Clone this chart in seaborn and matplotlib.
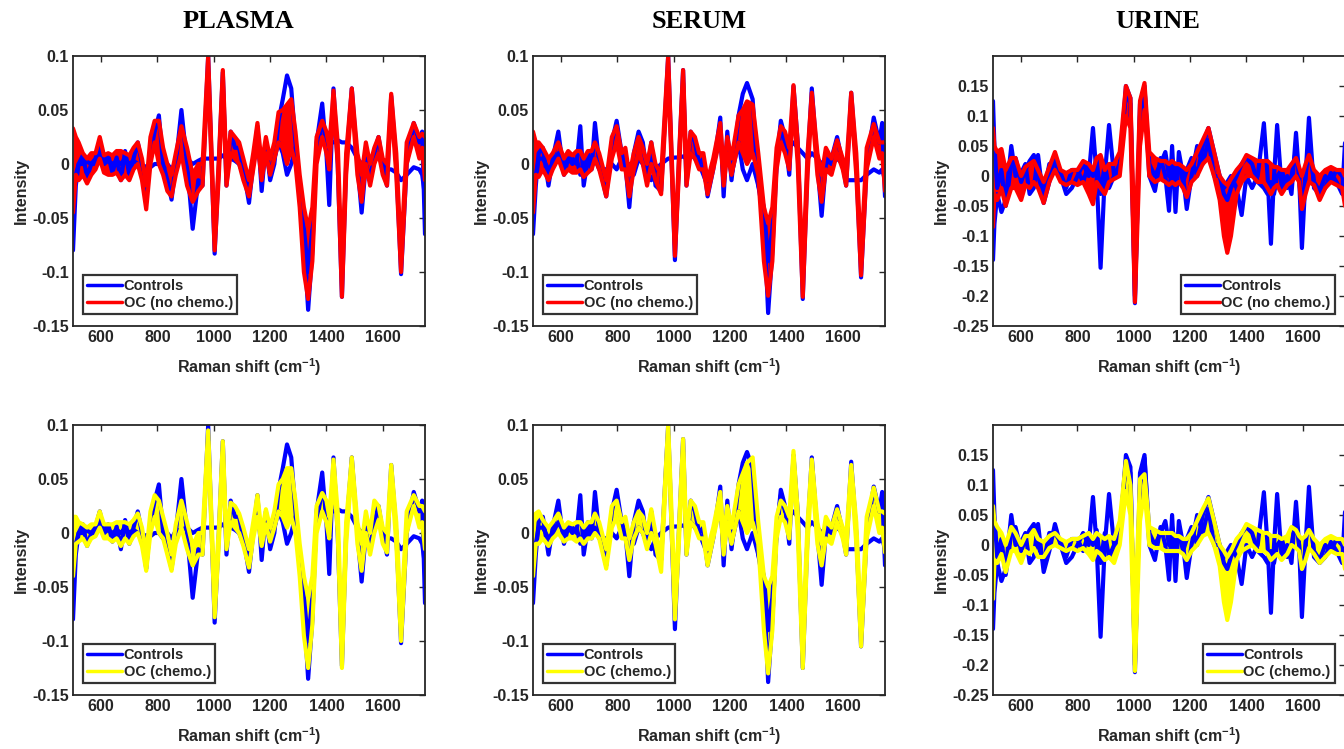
import matplotlib
matplotlib.use("Agg")
import matplotlib.pyplot as plt
from matplotlib.lines import Line2D
import seaborn as sns

# ---------------- data (keypoints in cm-1) ----------------
plasma_x = [500, 510, 520, 535, 550, 565, 580, 595, 610, 625,
            640, 655, 670, 685, 700, 715, 730, 745, 760, 775,
            790, 805, 820, 835, 850, 865, 885, 905, 925, 945,
            960, 980, 1003, 1018, 1032, 1045, 1060, 1075, 1090, 1105,
            1125, 1140, 1155, 1170, 1185, 1200, 1215, 1230, 1245, 1260,
            1275, 1290, 1305, 1320, 1335, 1350, 1365, 1385, 1400, 1410,
            1425, 1440, 1455, 1470, 1490, 1510, 1525, 1540, 1555, 1570,
            1585, 1600, 1615, 1630, 1648, 1665, 1685, 1710, 1730, 1740,
            1750]
plasma_ctrl_a = [-0.080, -0.020, 0.000, 0.008, -0.012, 0.000, 0.005, 0.020, 0.000, 0.008,
                 -0.008, 0.006, -0.015, 0.012, -0.010, 0.005, 0.020, 0.000, -0.033, 0.010,
                 0.030, 0.045, 0.000, -0.015, -0.033, 0.000, 0.050, 0.000, -0.060, -0.015,
                 -0.020, 0.100, -0.083, 0.000, 0.085, -0.020, 0.030, 0.015, 0.015, -0.005,
                 -0.036, 0.000, 0.035, -0.025, 0.020, -0.015, 0.000, 0.040, 0.060, 0.082,
                 0.070, 0.020, -0.030, -0.070, -0.135, -0.080, 0.020, 0.056, 0.010, -0.038,
                 0.070, 0.000, -0.123, 0.000, 0.070, 0.000, -0.045, 0.000, -0.015, 0.010,
                 0.025, 0.000, -0.020, 0.063, 0.000, -0.102, 0.000, 0.038, 0.020, 0.030,
                 -0.065]
plasma_ctrl_b = [-0.040, -0.010, 0.000, 0.000, 0.002, 0.000, 0.000, 0.010, 0.000, 0.003,
                 0.000, 0.003, 0.000, 0.005, 0.000, 0.003, 0.000, -0.005, -0.002, -0.003,
                 0.000, 0.000, -0.005, 0.000, -0.005, 0.002, 0.003, 0.005, 0.000, 0.003,
                 0.005, 0.005, 0.005, 0.005, 0.008, 0.005, 0.005, 0.003, 0.000, -0.010,
                 -0.020, 0.000, 0.020, -0.010, 0.015, -0.010, 0.005, 0.020, 0.010, -0.010,
                 0.000, 0.015, -0.020, -0.060, -0.100, -0.060, 0.010, 0.040, 0.025, 0.020,
                 0.020, 0.022, 0.020, 0.020, 0.015, 0.005, 0.000, 0.005, 0.000, 0.005,
                 0.010, 0.000, -0.005, -0.005, -0.008, -0.015, -0.010, -0.003, -0.005, -0.010,
                 -0.030]
plasma_nochemo_lo = [-0.045, -0.010, -0.015, -0.010, -0.018, -0.010, -0.005, 0.005, -0.008, -0.010,
                     -0.010, -0.008, -0.015, -0.010, -0.015, -0.005, 0.000, -0.015, -0.042, 0.000,
                     0.020, 0.000, -0.010, -0.025, -0.030, -0.010, 0.010, -0.020, -0.035, -0.025,
                     -0.020, 0.085, -0.080, -0.010, 0.075, -0.020, 0.010, 0.005, 0.000, -0.015,
                     -0.030, -0.005, 0.020, -0.015, 0.010, -0.010, 0.005, 0.020, 0.015, 0.000,
                     0.015, 0.000, -0.040, -0.100, -0.125, -0.090, 0.000, 0.025, 0.010, -0.005,
                     0.055, 0.000, -0.123, -0.010, 0.060, -0.010, -0.035, 0.000, -0.020, 0.000,
                     0.010, -0.010, -0.020, 0.055, -0.010, -0.100, 0.000, 0.025, 0.005, 0.015,
                     -0.015]
plasma_nochemo_hi = [0.033, 0.025, 0.020, 0.010, 0.005, 0.010, 0.010, 0.025, 0.008, 0.010,
                     0.008, 0.012, 0.012, 0.010, 0.008, 0.015, 0.020, 0.005, -0.020, 0.025,
                     0.040, 0.040, 0.015, 0.000, -0.010, 0.010, 0.035, 0.015, -0.010, 0.000,
                     0.000, 0.100, -0.070, 0.005, 0.087, -0.005, 0.030, 0.025, 0.020, 0.005,
                     -0.015, 0.010, 0.038, 0.000, 0.025, 0.005, 0.020, 0.048, 0.050, 0.055,
                     0.060, 0.030, -0.010, -0.040, -0.060, -0.040, 0.025, 0.040, 0.030, 0.015,
                     0.068, 0.020, -0.100, 0.010, 0.070, 0.010, -0.010, 0.020, 0.000, 0.015,
                     0.025, 0.005, 0.000, 0.065, 0.010, -0.085, 0.020, 0.038, 0.025, 0.028,
                     0.025]
plasma_chemo_lo = [-0.040, -0.010, -0.008, -0.005, -0.012, -0.005, -0.003, 0.005, -0.005, -0.005,
                   -0.008, -0.005, -0.012, -0.005, -0.010, -0.003, 0.000, -0.012, -0.035, 0.000,
                   0.015, 0.000, -0.005, -0.020, -0.035, -0.010, 0.005, -0.015, -0.030, -0.020,
                   -0.020, 0.085, -0.078, -0.010, 0.075, -0.015, 0.010, 0.005, 0.000, -0.012,
                   -0.032, -0.005, 0.015, -0.012, 0.008, -0.008, 0.005, 0.020, 0.015, 0.005,
                   0.015, 0.000, -0.040, -0.095, -0.125, -0.085, 0.000, 0.020, 0.010, -0.005,
                   0.055, 0.000, -0.125, -0.010, 0.060, -0.010, -0.035, 0.000, -0.020, 0.000,
                   0.012, -0.010, -0.018, 0.055, -0.010, -0.100, 0.000, 0.025, 0.005, 0.010,
                   -0.015]
plasma_chemo_hi = [0.015, 0.015, 0.010, 0.008, 0.005, 0.008, 0.008, 0.020, 0.008, 0.008,
                   0.008, 0.010, 0.010, 0.010, 0.008, 0.012, 0.018, 0.005, -0.020, 0.020,
                   0.035, 0.030, 0.015, 0.000, -0.020, 0.008, 0.030, 0.010, -0.012, 0.000,
                   0.000, 0.095, -0.060, 0.005, 0.085, -0.005, 0.028, 0.025, 0.018, 0.005,
                   -0.015, 0.010, 0.035, 0.000, 0.022, 0.005, 0.020, 0.045, 0.050, 0.060,
                   0.060, 0.030, -0.010, -0.040, -0.060, -0.040, 0.025, 0.037, 0.030, 0.015,
                   0.068, 0.020, -0.100, 0.010, 0.070, 0.010, -0.010, 0.020, 0.000, 0.030,
                   0.025, 0.005, 0.000, 0.063, 0.010, -0.080, 0.020, 0.035, 0.025, 0.025,
                   0.020]

serum_x = [500, 510, 520, 535, 555, 570, 590, 610, 625, 640,
           655, 668, 680, 695, 708, 720, 735, 760, 780, 797,
           815, 828, 842, 858, 875, 890, 905, 920, 935, 955,
           980, 1004, 1018, 1033, 1045, 1060, 1075, 1090, 1105, 1120,
           1140, 1165, 1177, 1190, 1205, 1230, 1245, 1260, 1280, 1300,
           1320, 1335, 1350, 1365, 1380, 1395, 1410, 1425, 1440, 1458,
           1475, 1490, 1510, 1525, 1540, 1560, 1580, 1600, 1612, 1630,
           1648, 1665, 1685, 1710, 1730, 1740, 1750]
serum_ctrl_a = [-0.065, -0.020, 0.010, 0.015, -0.020, 0.005, 0.030, -0.010, 0.005, 0.005,
                0.000, 0.035, -0.020, 0.005, -0.005, 0.038, 0.000, -0.030, 0.020, 0.040,
                0.010, 0.000, -0.040, 0.010, 0.030, 0.020, -0.010, 0.020, -0.020, -0.025,
                0.100, -0.089, 0.000, 0.087, -0.020, 0.030, 0.020, 0.000, 0.005, -0.030,
                -0.005, 0.043, -0.030, 0.030, -0.015, 0.045, 0.065, 0.075, 0.060, -0.020,
                -0.050, -0.138, -0.080, 0.000, 0.040, 0.025, -0.010, 0.072, 0.020, -0.125,
                0.000, 0.070, 0.000, -0.048, 0.000, 0.005, 0.025, 0.000, -0.020, 0.066,
                0.000, -0.105, 0.000, 0.043, 0.020, 0.038, -0.030]
serum_ctrl_b = [-0.040, -0.010, 0.005, 0.005, -0.005, 0.000, 0.010, 0.000, 0.005, 0.000,
                0.005, -0.010, 0.000, 0.010, 0.000, 0.005, -0.005, -0.005, 0.000, -0.005,
                0.005, -0.005, 0.000, -0.010, 0.005, 0.000, -0.010, -0.015, -0.005, 0.000,
                0.005, 0.006, 0.006, 0.007, 0.005, 0.010, 0.005, 0.000, -0.010, -0.020,
                0.000, 0.025, -0.015, 0.020, -0.010, 0.020, -0.005, -0.015, 0.000, -0.020,
                -0.040, -0.090, -0.060, 0.000, 0.035, 0.020, 0.015, 0.020, 0.015, 0.010,
                0.005, 0.010, 0.005, 0.000, 0.005, 0.000, 0.005, 0.000, -0.015, -0.015,
                -0.015, -0.015, -0.010, -0.005, -0.008, -0.005, -0.015]
serum_nochemo_lo = [-0.045, -0.010, -0.012, -0.005, -0.015, -0.005, 0.005, -0.010, -0.005, -0.008,
                    -0.008, -0.005, -0.012, -0.008, -0.005, 0.005, -0.005, -0.030, 0.005, 0.020,
                    -0.005, -0.005, -0.030, -0.005, 0.010, 0.000, -0.020, 0.000, -0.015, -0.028,
                    0.085, -0.085, -0.010, 0.075, -0.020, 0.010, 0.005, -0.005, -0.005, -0.028,
                    -0.005, 0.025, -0.020, 0.010, -0.010, 0.020, 0.010, 0.000, 0.010, -0.010,
                    -0.090, -0.122, -0.090, -0.005, 0.020, 0.010, -0.005, 0.055, 0.000, -0.123,
                    -0.010, 0.055, -0.010, -0.035, -0.005, -0.010, 0.010, -0.005, -0.020, 0.055,
                    -0.010, -0.103, -0.005, 0.025, 0.005, 0.010, -0.025]
serum_nochemo_hi = [0.030, 0.020, 0.020, 0.015, 0.005, 0.010, 0.020, 0.005, 0.012, 0.008,
                    0.012, 0.012, 0.005, 0.012, 0.012, 0.020, 0.010, -0.015, 0.025, 0.035,
                    0.010, 0.015, -0.010, 0.010, 0.025, 0.015, 0.000, 0.020, 0.000, -0.010,
                    0.100, -0.075, 0.005, 0.087, -0.005, 0.030, 0.025, 0.010, 0.010, -0.015,
                    0.005, 0.038, -0.005, 0.025, 0.005, 0.045, 0.050, 0.058, 0.055, 0.010,
                    -0.040, -0.055, -0.040, 0.015, 0.035, 0.030, 0.015, 0.073, 0.020, -0.100,
                    0.010, 0.066, 0.010, -0.010, 0.015, 0.005, 0.022, 0.005, -0.005, 0.066,
                    0.010, -0.085, 0.015, 0.037, 0.020, 0.020, 0.020]
serum_chemo_lo = [-0.040, -0.010, -0.010, -0.005, -0.012, -0.005, 0.000, -0.008, -0.005, -0.005,
                  -0.008, -0.005, -0.010, -0.005, -0.005, 0.000, -0.005, -0.033, 0.005, 0.015,
                  -0.005, -0.005, -0.025, -0.005, 0.005, 0.000, -0.015, 0.000, -0.010, -0.036,
                  0.090, -0.080, -0.010, 0.075, -0.020, 0.010, 0.005, -0.005, -0.005, -0.030,
                  -0.005, 0.025, -0.020, 0.010, -0.010, 0.020, 0.010, 0.000, 0.010, -0.010,
                  -0.090, -0.130, -0.090, -0.005, 0.015, 0.010, -0.005, 0.060, 0.000, -0.125,
                  -0.010, 0.055, -0.010, -0.030, -0.005, -0.010, 0.010, -0.005, -0.020, 0.055,
                  -0.010, -0.105, -0.005, 0.025, 0.000, 0.005, -0.018]
serum_chemo_hi = [0.015, 0.018, 0.020, 0.012, 0.005, 0.010, 0.018, 0.005, 0.010, 0.008,
                  0.010, 0.010, 0.005, 0.010, 0.010, 0.018, 0.010, -0.015, 0.025, 0.030,
                  0.010, 0.015, -0.005, 0.010, 0.020, 0.015, 0.000, 0.022, 0.000, -0.020,
                  0.100, -0.060, 0.005, 0.087, -0.005, 0.030, 0.025, 0.010, 0.010, -0.015,
                  0.005, 0.038, -0.005, 0.025, 0.005, 0.045, 0.055, 0.065, 0.070, 0.010,
                  -0.040, -0.050, -0.040, 0.015, 0.030, 0.025, 0.015, 0.076, 0.020, -0.100,
                  0.010, 0.068, 0.010, -0.010, 0.015, 0.005, 0.022, 0.005, -0.005, 0.063,
                  0.010, -0.085, 0.015, 0.042, 0.020, 0.020, 0.018]

urine_x = [500, 505, 515, 530, 545, 565, 580, 600, 615, 630,
           645, 660, 680, 700, 720, 740, 760, 780, 800, 820,
           840, 855, 868, 882, 897, 912, 930, 950, 972, 988,
           1004, 1022, 1038, 1055, 1075, 1095, 1112, 1125, 1136, 1148,
           1160, 1175, 1188, 1205, 1225, 1245, 1265, 1285, 1305, 1320,
           1332, 1345, 1365, 1383, 1400, 1420, 1440, 1462, 1475, 1487,
           1498, 1509, 1525, 1545, 1560, 1576, 1587, 1597, 1610, 1622,
           1640, 1660, 1680, 1700, 1720, 1740, 1750]
urine_ctrl_a = [-0.140, -0.080, -0.030, -0.060, -0.040, 0.050, 0.000, 0.005, 0.020, -0.030,
                -0.020, 0.035, -0.045, -0.010, 0.035, 0.000, -0.030, -0.020, 0.000, 0.020,
                0.000, 0.080, 0.000, -0.153, 0.000, 0.085, 0.000, 0.010, 0.150, 0.130,
                -0.212, 0.120, 0.150, 0.000, -0.025, 0.030, 0.000, -0.058, 0.050, -0.060,
                0.040, 0.000, -0.055, 0.000, 0.050, 0.020, 0.060, 0.000, 0.000, -0.020,
                -0.010, 0.000, -0.020, -0.065, 0.000, -0.020, 0.000, 0.088, 0.000, -0.113,
                0.000, 0.085, -0.020, 0.000, -0.030, 0.072, 0.000, -0.120, 0.000, 0.097,
                -0.020, -0.030, -0.020, 0.005, -0.010, -0.030, 0.055]
urine_ctrl_b = [0.125, 0.050, -0.020, 0.010, -0.050, 0.020, 0.030, -0.010, 0.010, 0.025,
                0.035, 0.000, -0.030, 0.020, 0.020, 0.005, -0.020, 0.010, 0.010, -0.010,
                0.020, 0.000, 0.025, -0.030, 0.020, -0.020, 0.000, 0.020, 0.140, 0.120,
                -0.200, 0.100, 0.145, 0.020, 0.000, 0.020, 0.040, 0.000, 0.030, 0.000,
                0.020, -0.010, 0.010, 0.030, 0.000, 0.050, 0.080, 0.040, 0.000, -0.030,
                -0.040, -0.020, 0.000, 0.020, 0.030, 0.020, -0.010, -0.020, -0.030, -0.010,
                -0.030, 0.000, 0.010, -0.020, 0.000, 0.045, 0.000, -0.060, 0.000, 0.050,
                -0.010, -0.025, 0.000, -0.010, 0.010, 0.000, -0.020]
urine_nochemo_lo = [-0.085, -0.030, -0.040, -0.020, -0.050, -0.020, -0.020, -0.040, -0.015, -0.020,
                    -0.010, -0.020, -0.045, -0.010, 0.010, -0.010, -0.015, -0.010, -0.015, -0.010,
                    -0.030, -0.047, -0.010, -0.020, -0.030, -0.010, -0.005, 0.000, 0.100, 0.080,
                    -0.210, 0.050, 0.110, 0.000, -0.010, -0.005, -0.010, -0.015, -0.010, -0.015,
                    -0.010, -0.020, -0.035, -0.010, 0.000, 0.020, 0.030, 0.000, -0.040, -0.100,
                    -0.128, -0.100, -0.030, -0.010, 0.000, 0.000, -0.010, -0.010, -0.020, -0.030,
                    -0.020, -0.015, -0.030, -0.015, -0.010, 0.000, -0.010, -0.055, -0.030, -0.010,
                    -0.015, -0.040, -0.020, -0.010, -0.015, -0.020, -0.050]
urine_nochemo_hi = [0.080, 0.050, 0.040, 0.045, 0.010, 0.030, 0.030, 0.000, 0.015, 0.020,
                    0.025, 0.010, -0.010, 0.015, 0.040, 0.010, 0.005, 0.010, 0.010, 0.025,
                    0.020, 0.010, 0.030, 0.035, 0.010, 0.020, 0.020, 0.040, 0.150, 0.130,
                    -0.130, 0.125, 0.155, 0.040, 0.030, 0.025, 0.025, 0.020, 0.025, 0.020,
                    0.020, 0.015, 0.010, 0.020, 0.040, 0.060, 0.080, 0.040, 0.000, -0.010,
                    -0.015, -0.005, 0.010, 0.020, 0.035, 0.030, 0.025, 0.025, 0.025, 0.020,
                    0.015, 0.015, 0.010, 0.010, 0.020, 0.030, 0.015, 0.000, 0.020, 0.035,
                    0.010, 0.000, 0.010, 0.015, 0.010, 0.010, 0.000]
urine_chemo_lo = [-0.090, -0.030, -0.030, -0.015, -0.045, -0.010, -0.010, -0.030, -0.010, -0.015,
                  -0.005, -0.020, -0.020, -0.005, 0.000, -0.005, -0.010, -0.005, -0.010, -0.005,
                  -0.015, -0.025, -0.010, -0.015, -0.025, -0.020, -0.030, 0.000, 0.090, 0.050,
                  -0.210, 0.040, 0.090, 0.000, -0.005, -0.005, -0.010, -0.010, -0.010, -0.010,
                  -0.010, -0.015, -0.025, -0.010, 0.000, 0.015, 0.020, 0.000, -0.035, -0.095,
                  -0.125, -0.095, -0.025, -0.010, -0.005, 0.000, -0.010, -0.010, -0.015, -0.025,
                  -0.020, -0.015, -0.025, -0.015, 0.000, -0.005, -0.010, -0.040, -0.025, -0.005,
                  -0.015, -0.030, -0.020, -0.010, -0.015, -0.015, -0.040]
urine_chemo_hi = [0.065, 0.040, 0.030, 0.020, 0.000, 0.030, 0.020, 0.000, 0.015, 0.015,
                  0.025, 0.010, 0.005, 0.015, 0.020, 0.010, 0.005, 0.010, 0.010, 0.015,
                  0.020, 0.010, 0.020, 0.015, 0.010, 0.015, 0.010, 0.040, 0.140, 0.100,
                  -0.120, 0.110, 0.118, 0.030, 0.025, 0.020, 0.020, 0.020, 0.020, 0.015,
                  0.015, 0.010, 0.010, 0.020, 0.040, 0.060, 0.078, 0.040, 0.000, -0.010,
                  -0.020, -0.010, 0.010, 0.020, 0.035, 0.030, 0.025, 0.020, 0.020, 0.015,
                  0.015, 0.015, 0.010, 0.015, 0.030, 0.025, 0.015, 0.010, 0.015, 0.025,
                  0.010, 0.000, 0.010, 0.015, 0.010, 0.010, 0.000]

titles = ["PLASMA", "SERUM", "URINE"]
group_labels = ["Controls", "OC (no chemo.)", "OC (chemo.)"]
x_ticks = [600, 800, 1000, 1200, 1400, 1600]
blood_yticks = [-0.15, -0.1, -0.05, 0, 0.05, 0.1]
blood_ylabels = ["-0.15", "-0.1", "-0.05", "0", "0.05", "0.1"]
urine_yticks = [-0.25, -0.2, -0.15, -0.1, -0.05, 0, 0.05, 0.1, 0.15]
urine_ylabels = ["-0.25", "-0.2", "-0.15", "-0.1", "-0.05", "0", "0.05", "0.1", "0.15"]

# ---------------- style ----------------
sns.set_theme(style="white")
plt.rcParams["font.family"] = ["Liberation Sans", "DejaVu Sans"]
plt.rcParams["mathtext.fontset"] = "custom"
plt.rcParams["mathtext.rm"] = "Liberation Sans:bold"
plt.rcParams["mathtext.bf"] = "Liberation Sans:bold"

BLUE, RED, YELLOW = "#0000ff", "#ff0000", "#ffff00"
INK = "#262626"
LW = 3.0

W, H = 1344, 749
fig = plt.figure(figsize=(W / 100, H / 100), dpi=100)

col_left = [73, 533, 993]
row_top = [56, 425]
ax_w, ax_h = 352, 270


def draw_panel(ax, x, ctrl_a, ctrl_b, lo, hi, color, label, yticks, ylabels, ylim, legend_right):
    for ys in (ctrl_b, ctrl_a):
        sns.lineplot(x=x, y=ys, ax=ax, color=BLUE, lw=LW, sort=False, estimator=None)
    ax.fill_between(x, lo, hi, color=color, lw=0)
    for ys in (lo, hi):
        sns.lineplot(x=x, y=ys, ax=ax, color=color, lw=LW, sort=False, estimator=None)

    ax.set_xlim(500, 1750)
    ax.set_ylim(*ylim)
    ax.set_xticks(x_ticks, labels=[str(t) for t in x_ticks], fontweight="bold")
    ax.set_yticks(yticks, labels=ylabels, fontweight="bold")
    ax.tick_params(direction="in", length=4, width=1, colors=INK, labelcolor=INK,
                   labelsize=11.5, top=True, right=True, pad=3)
    for sp in ax.spines.values():
        sp.set_color(INK)
        sp.set_linewidth(1.3)
    ax.set_xlabel(r"Raman shift (cm$^{-1}$)", fontsize=11.5, fontweight="bold", color=INK, labelpad=8)
    ax.set_ylabel("Intensity", fontsize=11.5, fontweight="bold", color=INK, labelpad=2)

    handles = [Line2D([], [], color=BLUE, lw=2.5), Line2D([], [], color=color, lw=2.5)]
    if legend_right:
        loc, anchor = "lower right", (1 - 10 / ax_w, 12 / ax_h)
    else:
        loc, anchor = "lower left", (10 / ax_w, 12 / ax_h)
    leg = ax.legend(handles, [group_labels[0], label], loc=loc, bbox_to_anchor=anchor,
                    borderaxespad=0, frameon=True, fancybox=False, edgecolor="black",
                    handlelength=2.4, handletextpad=0.1, borderpad=0.3, labelspacing=0.15,
                    prop={"weight": "bold", "size": 10.5})
    leg.get_frame().set_linewidth(1.6)


panels = [
    (plasma_x, plasma_ctrl_a, plasma_ctrl_b,
     [(plasma_nochemo_lo, plasma_nochemo_hi), (plasma_chemo_lo, plasma_chemo_hi)],
     blood_yticks, blood_ylabels, (-0.15, 0.1), False),
    (serum_x, serum_ctrl_a, serum_ctrl_b,
     [(serum_nochemo_lo, serum_nochemo_hi), (serum_chemo_lo, serum_chemo_hi)],
     blood_yticks, blood_ylabels, (-0.15, 0.1), False),
    (urine_x, urine_ctrl_a, urine_ctrl_b,
     [(urine_nochemo_lo, urine_nochemo_hi), (urine_chemo_lo, urine_chemo_hi)],
     urine_yticks, urine_ylabels, (-0.25, 0.2), True),
]

for c, (x, ca, cb, bands, yt, yl, ylim, right) in enumerate(panels):
    for r in range(2):
        left = col_left[c] / W
        bottom = 1 - (row_top[r] + ax_h) / H
        ax = fig.add_axes([left, bottom, ax_w / W, ax_h / H])
        color = RED if r == 0 else YELLOW
        lo, hi = bands[r]
        draw_panel(ax, x, ca, cb, lo, hi, color, group_labels[r + 1], yt, yl, ylim, right)

title_x = [238, 699, 1158]
for c, t in enumerate(titles):
    fig.text(title_x[c] / W, 1 - 22 / H, t, ha="center", va="center",
             fontsize=19, fontweight="bold", family="Liberation Serif", color="black")

fig.savefig("out.png", dpi=100)
